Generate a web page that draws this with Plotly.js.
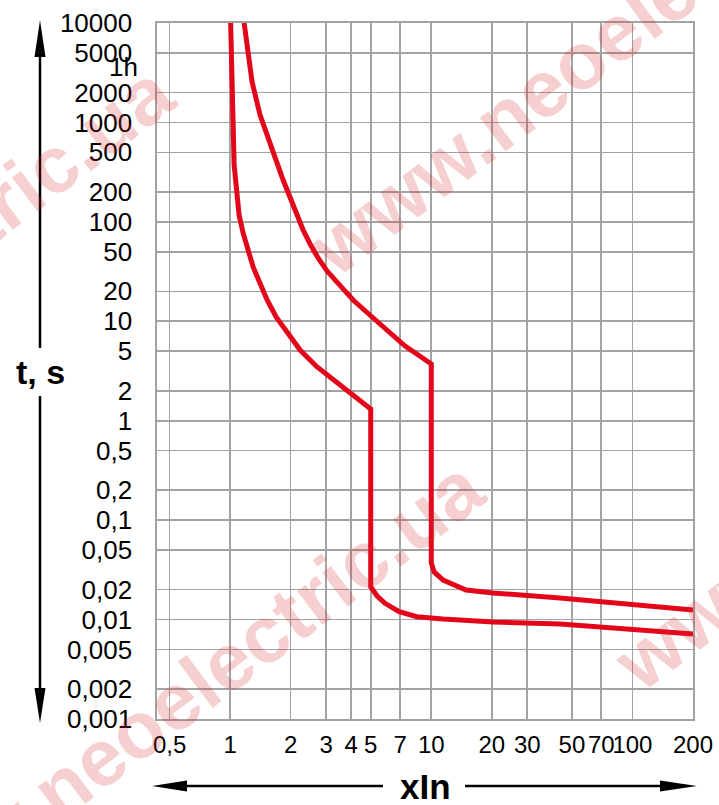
<!DOCTYPE html>
<html>
<head>
<meta charset="utf-8">
<script src="https://cdn.plot.ly/plotly-3.0.1.min.js"></script>
<style>html,body{margin:0;padding:0;background:#fff;}#chart{width:719px;height:805px;}</style>
</head>
<body>
<div id="chart"></div>
<script>
// ---- data ----
const xTickVals = [0.5, 1, 2, 3, 4, 5, 7, 10, 20, 30, 50, 70, 100, 200];
const xTickText = ['0,5', '1', '2', '3', '4', '5', '7', '10', '20', '30', '50', '70', '100', '200'];
const yTickVals = [0.001, 0.002, 0.005, 0.01, 0.02, 0.05, 0.1, 0.2, 0.5, 1, 2, 5, 10, 20, 50, 100, 200, 500, 1000, 2000, 5000, 10000];
const yTickText = ['0,001', '0,002', '0,005', '0,01', '0,02', '0,05', '0,1', '0,2', '0,5', '1', '2', '5', '10', '20', '50', '100', '200', '500', '1000', '2000', '5000', '10000'];
const hourTickVals = [3600];
const hourTickText = ['1h'];

// lower (minimum) trip curve: multiple of In, time in s
const lowerI = [1.006, 1.023, 1.047, 1.108, 1.160, 1.301, 1.527, 1.693, 1.920, 2.228, 2.707, 3.52, 4.43, 5.0, 5.0, 5.38, 5.89, 6.92, 8.47, 11.45, 20.3, 43.7, 200];
const lowerT = [10000, 1188, 373, 117.2, 77.3, 35.2, 16.37, 11.04, 7.62, 5.14, 3.47, 2.287, 1.616, 1.312, 0.02127, 0.01727, 0.01458, 0.0120, 0.01069, 0.01013, 0.00945, 0.00903, 0.00716];

// upper (maximum) trip curve
const upperI = [1.174, 1.229, 1.286, 1.409, 1.599, 1.834, 2.057, 2.306, 2.498, 2.737, 3.034, 3.442, 4.087, 5.08, 6.24, 7.41, 8.90, 10, 10, 10.33, 11.45, 14.89, 20.3, 43.7, 200];
const upperT = [10000, 4767, 2551, 1188, 553, 263.6, 147.8, 82.8, 59.9, 43.3, 32.0, 24.3, 16.37, 11.04, 7.62, 5.64, 4.37, 3.72, 0.0371, 0.0301, 0.0250, 0.01984, 0.01851, 0.01648, 0.01249];

const watermarkText = 'www.neoelectric.ua';
const yAxisLabel = 't, s';
const xAxisLabel = 'xIn';

// ---- layout helpers (pixel -> paper) ----
const FW = 719, FH = 805, ML = 157, MR = 26, MT = 23, MB = 86;
const PW = FW - ML - MR, PH = FH - MT - MB;
const px = x => (x - ML) / PW;
const py = y => (FH - MB - y) / PH;

const red = '#e3061b';
const grid = '#a3a3a3';

const traces = [
  {x: lowerI, y: lowerT, type: 'scatter', mode: 'lines', line: {color: red, width: 5}, hoverinfo: 'skip'},
  {x: upperI, y: upperT, type: 'scatter', mode: 'lines', line: {color: red, width: 5}, hoverinfo: 'skip'},
  {x: [1], y: [3600], yaxis: 'y2', type: 'scatter', mode: 'markers', marker: {opacity: 0}, hoverinfo: 'skip'}
];

function line(x0, y0, x1, y1) {
  return {type: 'line', xref: 'paper', yref: 'paper', x0: px(x0), y0: py(y0), x1: px(x1), y1: py(y1), line: {color: '#000', width: 2.5}};
}
function tri(a, b, c) {
  const p = pt => px(pt[0]) + ',' + py(pt[1]);
  return {type: 'path', xref: 'paper', yref: 'paper', path: 'M' + p(a) + ' L' + p(b) + ' L' + p(c) + ' Z', fillcolor: '#000', line: {width: 0}};
}

const shapes = [
  line(40, 57, 40, 348), line(40, 396, 40, 688),
  tri([40, 20], [45.5, 57], [34.5, 57]),
  tri([40, 723], [45.5, 688], [34.5, 688]),
  line(187, 786, 383, 786), line(465, 786, 660, 786),
  tri([152, 786], [187, 780.5], [187, 791.5]),
  tri([697, 786], [660, 780.5], [660, 791.5])
];

const wmFont = {family: 'Liberation Sans, Arial, sans-serif', size: 80, weight: 'bold', color: 'rgba(214,40,40,0.22)'};
const wmCenters = [[174, 702], [616, 33], [-136, 307], [921, 448]];
const annotations = wmCenters.map(c => ({
  text: watermarkText, xref: 'paper', yref: 'paper', x: px(c[0]), y: py(c[1]),
  xanchor: 'center', yanchor: 'middle', showarrow: false, textangle: -37, font: wmFont
}));
annotations.push({text: yAxisLabel, xref: 'paper', yref: 'paper', x: px(40), y: py(372), xanchor: 'center', yanchor: 'middle', showarrow: false,
  font: {family: 'Liberation Sans, Arial, sans-serif', size: 34, weight: 'bold', color: '#000'}});
annotations.push({text: xAxisLabel, xref: 'paper', yref: 'paper', x: px(425), y: py(786), xanchor: 'center', yanchor: 'middle', showarrow: false,
  font: {family: 'Liberation Sans, Arial, sans-serif', size: 35, weight: 'bold', color: '#000'}});

const layout = {
  width: FW, height: FH,
  margin: {l: ML, r: MR, t: MT, b: MB, pad: 0},
  paper_bgcolor: '#fff', plot_bgcolor: '#fff',
  showlegend: false,
  xaxis: {
    type: 'log', range: [Math.log10(0.433), Math.log10(200)],
    tickvals: xTickVals, ticktext: xTickText, tickangle: 0,
    showgrid: true, gridcolor: grid, gridwidth: 1.6,
    showline: true, linecolor: grid, linewidth: 1.6, mirror: true,
    ticks: '', ticklabelstandoff: 4,
    tickfont: {family: 'Liberation Sans, Arial, sans-serif', size: 24, color: '#000'},
    fixedrange: true
  },
  yaxis: {
    type: 'log', range: [-3, 4],
    tickvals: yTickVals, ticktext: yTickText,
    showgrid: true, gridcolor: grid, gridwidth: 1.6,
    showline: true, linecolor: grid, linewidth: 1.6, mirror: true,
    ticks: '', ticklabelstandoff: 18,
    tickfont: {family: 'Liberation Sans, Arial, sans-serif', size: 26, color: '#000'},
    fixedrange: true
  },
  yaxis2: {
    type: 'log', range: [-3, 4], overlaying: 'y', side: 'left', anchor: 'x',
    tickvals: hourTickVals, ticktext: hourTickText,
    showgrid: false, showline: false, zeroline: false, ticks: '', ticklabelstandoff: 18,
    tickfont: {family: 'Liberation Sans, Arial, sans-serif', size: 26, color: '#000'},
    fixedrange: true
  },
  shapes: shapes,
  annotations: annotations
};

Plotly.newPlot('chart', traces, layout, {staticPlot: true, displayModeBar: false});
</script>
</body>
</html>
